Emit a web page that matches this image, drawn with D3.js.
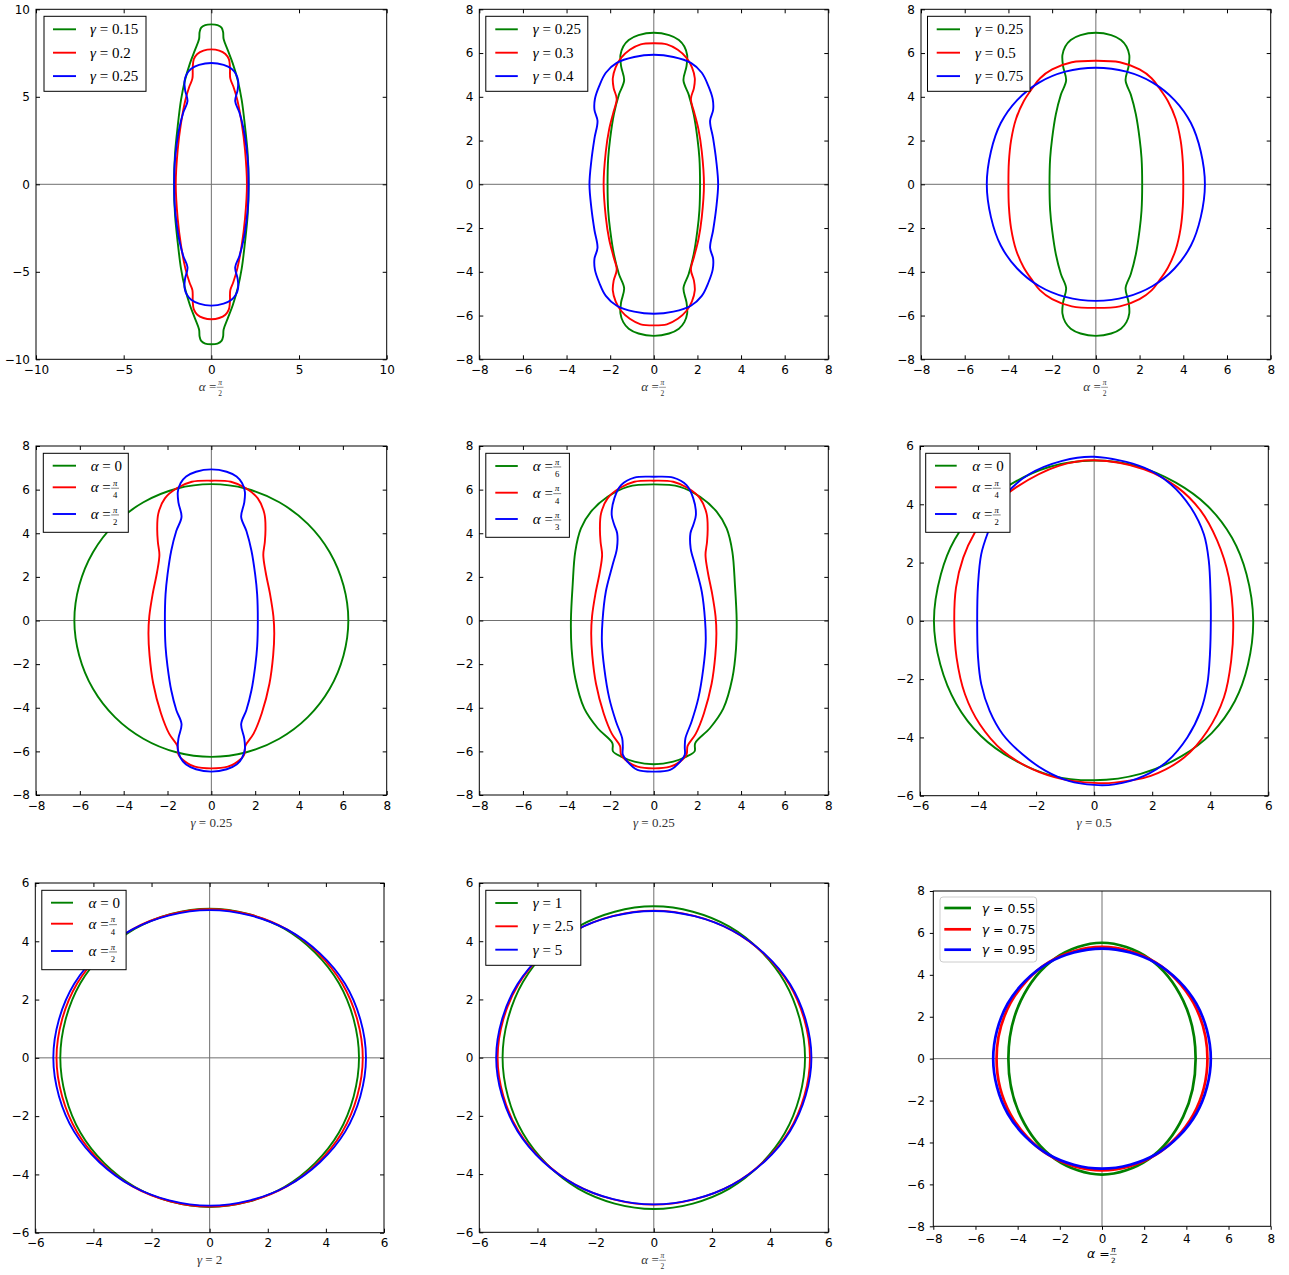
<!DOCTYPE html>
<html>
<head>
<meta charset="utf-8">
<script src="https://cdn.jsdelivr.net/npm/d3@7"></script>
<style>body{margin:0;background:#fff}</style>
</head>
<body>
<script>
// ---- tick values ----
const tick10 = [-10, -5, 0, 5, 10];
const tick8 = [-8, -6, -4, -2, 0, 2, 4, 6, 8];
const tick6 = [-6, -4, -2, 0, 2, 4, 6];

// ---- curves ----
// most curves are mirror images about x = 0, so only the right half is kept (top -> bottom)
const g015a90 = [[0,9.14],[0.35,9.1],[0.58,8.95],[0.67,8.7],[0.7,8.3],[0.93,7.68],[1.22,6.91],[1.5,5.96],[1.73,4.82],[1.92,3.3],[2.07,1.77],[2.13,0],
  [2.07,-1.77],[1.92,-3.3],[1.73,-4.82],[1.5,-5.96],[1.22,-6.91],[0.93,-7.68],[0.7,-8.3],[0.67,-8.7],[0.58,-8.95],[0.35,-9.1],[0,-9.14]];
const g020a90 = [[0,7.71],[0.45,7.64],[0.8,7.45],[1.0,7.15],[1.06,6.7],[1.08,6.05],[1.25,5.6],[1.48,4.82],[1.73,3.49],[1.92,1.96],[2.03,0],
  [1.92,-1.96],[1.73,-3.49],[1.48,-4.82],[1.25,-5.6],[1.08,-6.05],[1.06,-6.7],[1.0,-7.15],[0.8,-7.45],[0.45,-7.64],[0,-7.71]];
const g025a90 = [[0,6.93],[0.7,6.82],[1.15,6.6],[1.4,6.3],[1.53,5.9],[1.5,5.4],[1.36,4.75],[1.6,4.1],[1.83,3.2],[2.0,2.1],[2.09,1.2],[2.12,0],
  [2.09,-1.2],[2.0,-2.1],[1.83,-3.2],[1.6,-4.1],[1.36,-4.75],[1.5,-5.4],[1.53,-5.9],[1.4,-6.3],[1.15,-6.6],[0.7,-6.82],[0,-6.93]];
const g030a90 = [[0,6.45],[0.6,6.4],[1.1,6.15],[1.5,5.78],[1.75,5.35],[1.88,4.85],[1.84,4.4],[1.7,3.9],[1.85,3.3],[2.05,2.5],[2.2,1.5],[2.3,0],
  [2.2,-1.5],[2.05,-2.5],[1.85,-3.3],[1.7,-3.9],[1.84,-4.4],[1.88,-4.85],[1.75,-5.35],[1.5,-5.78],[1.1,-6.15],[0.6,-6.4],[0,-6.45]];
const g040a90 = [[0,5.92],[0.9,5.82],[1.7,5.55],[2.2,5.1],[2.5,4.5],[2.7,3.9],[2.72,3.4],[2.58,2.9],[2.72,2.1],[2.86,1.1],[2.95,0],
  [2.86,-1.1],[2.72,-2.1],[2.58,-2.9],[2.72,-3.4],[2.7,-3.9],[2.5,-4.5],[2.2,-5.1],[1.7,-5.55],[0.9,-5.82],[0,-5.92]];
const g050a90 = [[0,5.65],[1.1,5.58],[2.0,5.25],[2.55,4.85],[2.9,4.4],[3.3,3.8],[3.65,3.0],[3.88,2.0],[3.98,1.0],[4.0,0],
  [3.98,-1.0],[3.88,-2.0],[3.65,-3.0],[3.3,-3.8],[2.9,-4.4],[2.55,-4.85],[2.0,-5.25],[1.1,-5.58],[0,-5.65]];
const g075a90 = [[0,5.33],[1.4,5.15],[2.6,4.65],[3.6,3.85],[4.35,2.8],[4.8,1.5],[4.99,0],
  [4.8,-1.5],[4.35,-2.8],[3.6,-3.85],[2.6,-4.65],[1.4,-5.15],[0,-5.33]];
const g025a0 = [[0,6.25],[1.6,6.04],[3.1,5.42],[4.4,4.43],[5.4,3.13],[6.03,1.6],[6.25,0],
  [6.03,-1.6],[5.4,-3.13],[4.4,-4.43],[3.1,-5.42],[1.6,-6.04],[0,-6.25]];
const g025a45 = [[0,6.41],[0.89,6.36],[1.58,6.06],[2.12,5.6],[2.42,4.9],[2.47,4.2],[2.44,3.6],[2.37,3.0],[2.48,2.2],[2.68,1.2],[2.83,0.2],
  [2.87,-0.6],[2.82,-1.6],[2.65,-2.9],[2.3,-4.25],[1.92,-5.2],[1.55,-5.75],[1.5,-6.15],[1.2,-6.47],[0.75,-6.7],[0,-6.78]];
const g025a30 = [[0,6.24],[1.2,6.13],[2.12,5.67],[2.88,4.99],[3.34,4.22],[3.6,3.16],[3.72,1.63],[3.8,0],[3.77,-1.28],[3.6,-2.65],
  [3.19,-4.03],[2.57,-4.94],[1.9,-5.62],[1.87,-6.0],[1.5,-6.24],[0.89,-6.47],[0,-6.59]];
const g025a60 = [[0,6.59],[0.89,6.55],[1.5,6.21],[1.81,5.6],[1.93,4.84],[1.81,4.38],[1.68,4.0],[1.69,3.31],[1.89,2.54],[2.2,1.32],[2.35,0],
  [2.38,-0.97],[2.27,-2.19],[2.04,-3.57],[1.73,-4.64],[1.45,-5.4],[1.42,-5.8],[1.42,-6.15],[1.21,-6.47],[0.75,-6.85],[0,-6.93]];
// gamma = 0.5 panel: slightly skewed, so the whole loop is kept (clockwise from the top)
const g05a0 = [[0,5.5],[1.5,5.3],[2.8,4.75],[3.9,3.95],[4.75,2.85],[5.25,1.6],[5.48,0],[5.3,-1.5],[4.85,-2.75],[4.05,-3.85],[3.0,-4.65],[1.6,-5.25],
  [0,-5.47],[-1.5,-5.3],[-2.8,-4.75],[-3.9,-3.95],[-4.75,-2.85],[-5.3,-1.5],[-5.52,0],[-5.28,1.6],[-4.8,2.8],[-3.95,3.9],[-2.85,4.7],[-1.55,5.28]];
const g05a45 = [[0,5.51],[1.72,5.2],[2.87,4.58],[3.67,3.78],[4.24,2.75],[4.64,1.49],[4.79,0],[4.72,-1.37],[4.47,-2.63],[3.9,-3.78],[3.1,-4.69],
  [1.95,-5.32],[0.7,-5.55],[0,-5.56],[-1.1,-5.43],[-2.13,-5.09],[-3.15,-4.46],[-3.94,-3.55],[-4.45,-2.52],[-4.74,-1.26],[-4.82,0],[-4.76,1.14],
  [-4.51,2.17],[-4.11,3.03],[-3.5,3.9],[-2.69,4.58],[-1.22,5.32]];
const g05a90 = [[0,5.63],[1.72,5.26],[2.64,4.69],[3.33,3.89],[3.78,2.97],[3.95,2.06],[4.01,0.92],[4.02,0],[3.99,-1.14],[3.9,-2.17],[3.67,-3.09],
  [3.21,-4.0],[2.53,-4.81],[1.72,-5.32],[0.7,-5.61],[0,-5.63],[-0.88,-5.49],[-1.67,-5.15],[-2.47,-4.58],[-3.15,-3.89],[-3.6,-3.09],[-3.89,-2.17],
  [-4.0,-1.26],[-4.03,0],[-4.0,1.26],[-3.89,2.29],[-3.66,3.03],[-3.35,3.75],[-3.03,4.35],[-2.24,5.03],[-1.1,5.49]];
const g2a0 = [[0,5.12],[2.57,4.43],[4.45,2.56],[5.14,0],[4.45,-2.56],[2.57,-4.43],[0,-5.12]];
const g2a45 = [[0,5.1],[2.64,4.42],[4.56,2.55],[5.27,0],[4.56,-2.55],[2.64,-4.42],[0,-5.1]];
const g2a90 = [[0,5.07],[2.69,4.39],[4.66,2.54],[5.38,0],[4.66,-2.54],[2.69,-4.39],[0,-5.07]];
const g1a90 = [[0,5.2],[2.6,4.5],[4.5,2.6],[5.2,0],[4.5,-2.6],[2.6,-4.5],[0,-5.2]];
const g25a90 = [[0,5.05],[2.69,4.37],[4.65,2.53],[5.37,0],[4.65,-2.53],[2.69,-4.37],[0,-5.05]];
const g5a90 = [[0,5.04],[2.71,4.36],[4.69,2.52],[5.42,0],[4.69,-2.52],[2.71,-4.36],[0,-5.04]];
const g055a90 = [[0,5.53],[2.22,4.79],[3.85,2.77],[4.44,0],[3.85,-2.77],[2.22,-4.79],[0,-5.53]];
const g075a90b = [[0,5.33],[2.5,4.62],[4.33,2.67],[5.0,0],[4.33,-2.67],[2.5,-4.62],[0,-5.33]];
const g095a90 = [[0,5.25],[2.58,4.55],[4.47,2.63],[5.16,0],[4.47,-2.63],[2.58,-4.55],[0,-5.25]];

// ---- legend and axis texts ----
const legend1 = ["γ=0.15", "γ=0.2", "γ=0.25"];
const legend2 = ["γ=0.25", "γ=0.3", "γ=0.4"];
const legend3 = ["γ=0.25", "γ=0.5", "γ=0.75"];
const legend4 = ["α=0", "α=π/4", "α=π/2"];
const legend5 = ["α=π/6", "α=π/4", "α=π/3"];
const legend8 = ["γ=1", "γ=2.5", "γ=5"];
const legend9 = ["γ=0.55", "γ=0.75", "γ=0.95"];
const xlabels = ["α=π/2", "α=π/2", "α=π/2", "γ=0.25", "γ=0.25", "γ=0.5", "γ=2", "α=π/2", "α=π/2"];

const colors = ["#008000", "#ff0000", "#0000ff"];

const panels = [
  {curves: [g015a90, g020a90, g025a90], legend: legend1, dom: [-10, 10], ticks: tick10},
  {curves: [g025a90, g030a90, g040a90], legend: legend2, dom: [-8, 8], ticks: tick8},
  {curves: [g025a90, g050a90, g075a90], legend: legend3, dom: [-8, 8], ticks: tick8},
  {curves: [g025a0, g025a45, g025a90], legend: legend4, dom: [-8, 8], ticks: tick8},
  {curves: [g025a30, g025a45, g025a60], legend: legend5, dom: [-8, 8], ticks: tick8},
  {curves: [g05a0, g05a45, g05a90], full: true, legend: legend4, dom: [-6, 6], ticks: tick6},
  {curves: [g2a0, g2a45, g2a90], legend: legend4, dom: [-6, 6], ticks: tick6},
  {curves: [g1a90, g25a90, g5a90], legend: legend8, dom: [-6, 6], ticks: tick6},
  {curves: [g055a90, g075a90b, g095a90], legend: legend9, dom: [-8, 8], ticks: tick8, modern: true}
];

// pixel boxes of each axes, and legend geometry relative to the axes corner
const layout = [
  {l: 36, r: 386.7, t: 9.3, b: 359.3, lg: {x: 8, y: 7, w: 102, h: 75, h0: 17, h1: 40, tx: 54, rows: [20, 43.4, 66.8]}},
  {l: 479.3, r: 828.3, t: 9.3, b: 359.3, lg: {x: 6.5, y: 7, w: 102, h: 75, h0: 16, h1: 38.5, tx: 53.5, rows: [20, 43.4, 66.8]}},
  {l: 921, r: 1270.7, t: 9.3, b: 359.3, lg: {x: 6.5, y: 7, w: 102.5, h: 75, h0: 15.7, h1: 39, tx: 54, rows: [20, 43.4, 66.8]}},
  {l: 36, r: 386.7, t: 446, b: 795, lg: {x: 7.3, y: 7.3, w: 85, h: 79, h0: 16.7, h1: 40, tx: 54.7, rows: [19.7, 41.3, 68]}},
  {l: 479.3, r: 828.3, t: 446, b: 795, lg: {x: 6.5, y: 7.3, w: 83.6, h: 84, h0: 16, h1: 38.5, tx: 53.5, rows: [20, 46.7, 73]}},
  {l: 920, r: 1268.3, t: 446, b: 795.7, lg: {x: 5.7, y: 7.3, w: 84.3, h: 79, h0: 15, h1: 36.7, tx: 52.3, rows: [19.7, 41.3, 68]}},
  {l: 35.3, r: 384, t: 883, b: 1232.7, lg: {x: 6.5, y: 7.3, w: 84.3, h: 79.4, h0: 15.7, h1: 37.7, tx: 53.3, rows: [19.7, 40.7, 68]}},
  {l: 479.3, r: 828.3, t: 883, b: 1232.3, lg: {x: 6.5, y: 7.3, w: 95, h: 75, h0: 16, h1: 38.5, tx: 53.5, rows: [20, 43.3, 66.7]}},
  {l: 933.3, r: 1270.7, t: 891, b: 1226.3, lg: {x: 6.7, y: 6, w: 96.7, h: 65, h0: 11, h1: 37.7, tx: 48.4, rows: [17, 38.3, 58.7]}}
];

const W = 1289, H = 1275;
const svg = d3.select("body").append("svg")
  .attr("width", W).attr("height", H)
  .attr("xmlns", "http://www.w3.org/2000/svg");
svg.append("rect").attr("width", W).attr("height", H).attr("fill", "#fff");

const serif = "'Liberation Serif', 'Times New Roman', serif";
const sans = "'DejaVu Sans', sans-serif";

// right half -> closed loop (left side is the mirror image)
function loop(half) {
  const left = half.slice(1, -1).reverse().map(p => [-p[0], p[1]]);
  return half.concat(left);
}

// "sym=value" label, value may be a fraction like π/4
function mathLabel(parent, x, y, str, o) {
  const i = str.indexOf("=");
  const sym = str.slice(0, i), val = str.slice(i + 1);
  const frac = val.includes("/");
  const grp = parent.append("g");
  const t = grp.append("text")
    .attr("font-family", o.family).attr("font-size", o.size).attr("fill", o.color);
  t.append("tspan").attr("font-style", "italic").text(sym);
  t.append("tspan").text(" = " + (frac ? "" : val));
  let w = t.node().getComputedTextLength();
  if (frac) {
    const [n, d] = val.split("/");
    const fs = o.size * 0.58, cx = w + fs * 0.5;
    grp.append("text").attr("x", cx).attr("y", -o.size * 0.43)
      .attr("text-anchor", "middle").attr("font-family", o.family).attr("font-size", fs)
      .attr("font-style", "italic").attr("fill", o.color).text(n);
    grp.append("line")
      .attr("x1", cx - fs * 0.45).attr("x2", cx + fs * 0.45)
      .attr("y1", -o.size * 0.27).attr("y2", -o.size * 0.27)
      .attr("stroke", o.color).attr("stroke-width", 0.5);
    grp.append("text").attr("x", cx).attr("y", o.size * 0.4)
      .attr("text-anchor", "middle").attr("font-family", o.family).attr("font-size", fs)
      .attr("fill", o.color).text(d);
    w = cx + fs * 0.5;
  }
  const x0 = o.anchor === "middle" ? x - w / 2 : x;
  grp.attr("transform", `translate(${x0},${y})`);
}

panels.forEach((p, i) => {
  const L = layout[i];
  const x = d3.scaleLinear().domain(p.dom).range([L.l, L.r]);
  const y = d3.scaleLinear().domain(p.dom).range([L.b, L.t]);
  const g = svg.append("g");
  const lw = p.modern ? 2.7 : 1.9;

  // zero lines
  g.append("line").attr("x1", L.l).attr("x2", L.r).attr("y1", y(0)).attr("y2", y(0))
    .attr("stroke", "#707070").attr("stroke-width", 1);
  g.append("line").attr("x1", x(0)).attr("x2", x(0)).attr("y1", L.t).attr("y2", L.b)
    .attr("stroke", "#707070").attr("stroke-width", 1);

  // curves
  const line = d3.line().x(d => x(d[0])).y(d => y(d[1]))
    .curve(d3.curveCatmullRomClosed.alpha(0.5));
  p.curves.forEach((c, k) => {
    g.append("path")
      .attr("d", line(p.full ? c : loop(c)))
      .attr("fill", "none").attr("stroke", colors[k])
      .attr("stroke-width", lw).attr("stroke-linejoin", "round");
  });

  // axes
  const fmt = d3.format("d");
  const tickIn = p.modern ? 3.5 : -4;
  const pad = p.modern ? 5 : 6;
  const ax = [
    g.append("g").attr("transform", `translate(0,${L.b})`)
      .call(d3.axisBottom(x).tickValues(p.ticks).tickSizeInner(tickIn).tickSizeOuter(0).tickPadding(pad).tickFormat(fmt)),
    g.append("g").attr("transform", `translate(${L.l},0)`)
      .call(d3.axisLeft(y).tickValues(p.ticks).tickSizeInner(tickIn).tickSizeOuter(0).tickPadding(pad).tickFormat(fmt))
  ];
  if (!p.modern) {
    ax.push(g.append("g").attr("transform", `translate(0,${L.t})`)
      .call(d3.axisTop(x).tickValues(p.ticks).tickSizeInner(-4).tickSizeOuter(0).tickFormat("")));
    ax.push(g.append("g").attr("transform", `translate(${L.r},0)`)
      .call(d3.axisRight(y).tickValues(p.ticks).tickSizeInner(-4).tickSizeOuter(0).tickFormat("")));
  }
  ax.forEach(a => {
    a.select(".domain").remove();
    a.selectAll("line").attr("stroke", "#000").attr("stroke-width", 1);
    a.selectAll("text").attr("font-family", sans).attr("font-size", 12).attr("fill", "#000");
  });

  // frame
  g.append("rect").attr("x", L.l).attr("y", L.t)
    .attr("width", L.r - L.l).attr("height", L.b - L.t)
    .attr("fill", "none").attr("stroke", "#000").attr("stroke-width", 1);

  // legend
  const lg = L.lg;
  const lgG = g.append("g");
  lgG.append("rect")
    .attr("x", L.l + lg.x).attr("y", L.t + lg.y).attr("width", lg.w).attr("height", lg.h)
    .attr("rx", p.modern ? 3 : 0)
    .attr("fill", "#fff").attr("fill-opacity", p.modern ? 0.8 : 1)
    .attr("stroke", p.modern ? "#cccccc" : "#000").attr("stroke-width", 1);
  p.legend.forEach((s, k) => {
    const ry = L.t + lg.rows[k];
    lgG.append("line")
      .attr("x1", L.l + lg.h0).attr("x2", L.l + lg.h1).attr("y1", ry).attr("y2", ry)
      .attr("stroke", colors[k]).attr("stroke-width", lw);
    mathLabel(lgG, L.l + lg.tx, ry + (p.modern ? 4.5 : 5), s,
      p.modern ? {family: sans, size: 12.5, color: "#000"} : {family: serif, size: 15, color: "#000"});
  });

  // x label
  mathLabel(g, (L.l + L.r) / 2, L.b + 31.5, xlabels[i],
    p.modern ? {family: sans, size: 12.5, color: "#000", anchor: "middle"}
             : {family: serif, size: 13, color: "#333", anchor: "middle"});
});
</script>
</body>
</html>
